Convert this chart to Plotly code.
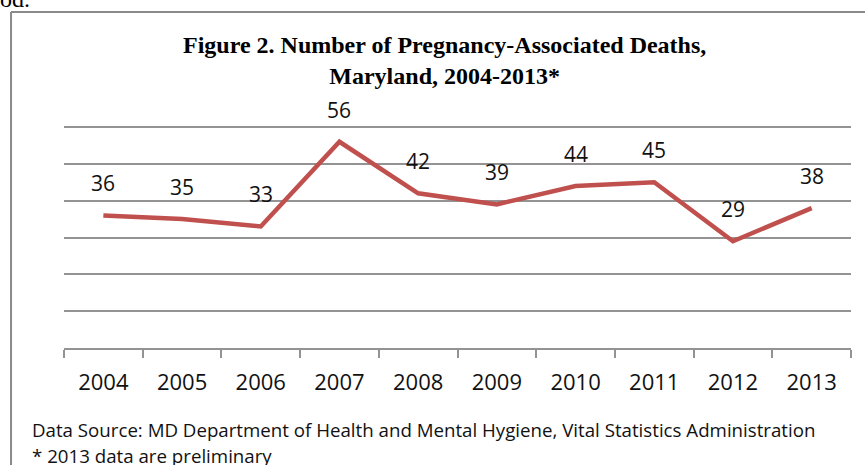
import plotly.graph_objects as go

years = ['2004', '2005', '2006', '2007', '2008', '2009', '2010', '2011', '2012', '2013']
deaths = [36, 35, 33, 56, 42, 39, 44, 45, 29, 38]

LINE_RED = '#C0504D'
GRID_GRAY = '#939393'
BODY_FONT = 'Open Sans, Noto Sans, sans-serif'
SERIF = 'Liberation Serif, Times New Roman, serif'

fig = go.Figure()

fig.add_trace(
    go.Scatter(
        x=years,
        y=deaths,
        mode='lines',
        line=dict(color=LINE_RED, width=4.5),
        hoverinfo='x+y',
        showlegend=False,
    )
)

# data labels above each point (category index positions)
for i, val in enumerate(deaths):
    fig.add_annotation(
        x=i, y=val, text=str(val), showarrow=False,
        yshift=32,
        font=dict(family=BODY_FONT, size=21, color='#111111'),
    )

# title
fig.add_annotation(
    xref='paper', yref='paper', x=0.484, y=1.2756,
    text='<b>Figure 2. Number of Pregnancy-Associated Deaths,<br>Maryland, 2004-2013*</b>',
    showarrow=False, align='center', yanchor='middle',
    font=dict(family=SERIF, size=24, color='#000000'),
)

# footnotes
fig.add_annotation(
    xref='paper', yref='paper', x=-0.0432, y=-0.3644, xanchor='left', yanchor='middle',
    text='Data Source: MD Department of Health and Mental Hygiene, Vital Statistics Administration',
    showarrow=False, font=dict(family=BODY_FONT, size=18.7, color='#111111'),
)
fig.add_annotation(
    xref='paper', yref='paper', x=-0.0432, y=-0.4756, xanchor='left', yanchor='middle',
    text='* 2013 data are preliminary',
    showarrow=False, font=dict(family=BODY_FONT, size=18.7, color='#111111'),
)

# fragment of page text above the box
fig.add_annotation(
    xref='paper', yref='paper', x=-0.0839, y=1.484, xanchor='left', yanchor='bottom',
    text='od.', showarrow=False,
    font=dict(family=SERIF, size=24, color='#000000'),
)

# surrounding box (left and top edges visible)
fig.add_shape(type='line', xref='paper', yref='paper', x0=-0.0673, y0=1.4933, x1=-0.0673, y1=-0.7,
              line=dict(color='#8A8A8A', width=2))
fig.add_shape(type='line', xref='paper', yref='paper', x0=-0.0673, y0=1.4933, x1=1.05, y1=1.4933,
              line=dict(color='#8A8A8A', width=2))

fig.update_xaxes(
    type='category', range=[-0.5, 9.5], autorange=False,
    showline=True, linecolor=GRID_GRAY, linewidth=2,
    ticks='outside', tickson='boundaries', ticklen=8, tickcolor=GRID_GRAY, tickwidth=2,
    ticklabelstandoff=14,
    showgrid=False, tickangle=0, automargin=False,
    tickfont=dict(family=BODY_FONT, size=22, color='#111111'),
    fixedrange=True,
)
fig.update_yaxes(
    range=[0, 61.1], autorange=False, tickvals=[10, 20, 30, 40, 50, 60],
    showgrid=True, gridcolor=GRID_GRAY, gridwidth=2,
    showticklabels=False, zeroline=False, automargin=False,
    fixedrange=True,
)

fig.update_layout(
    width=865, height=465,
    margin=dict(l=64, r=14, t=123, b=117),
    paper_bgcolor='white',
    plot_bgcolor='white',
    showlegend=False,
)

# drop the browser's default body margin so the figure sits at the page corner
fig.write_html('out.html', config={'displayModeBar': False},
               post_script="document.body.style.margin='0';")
